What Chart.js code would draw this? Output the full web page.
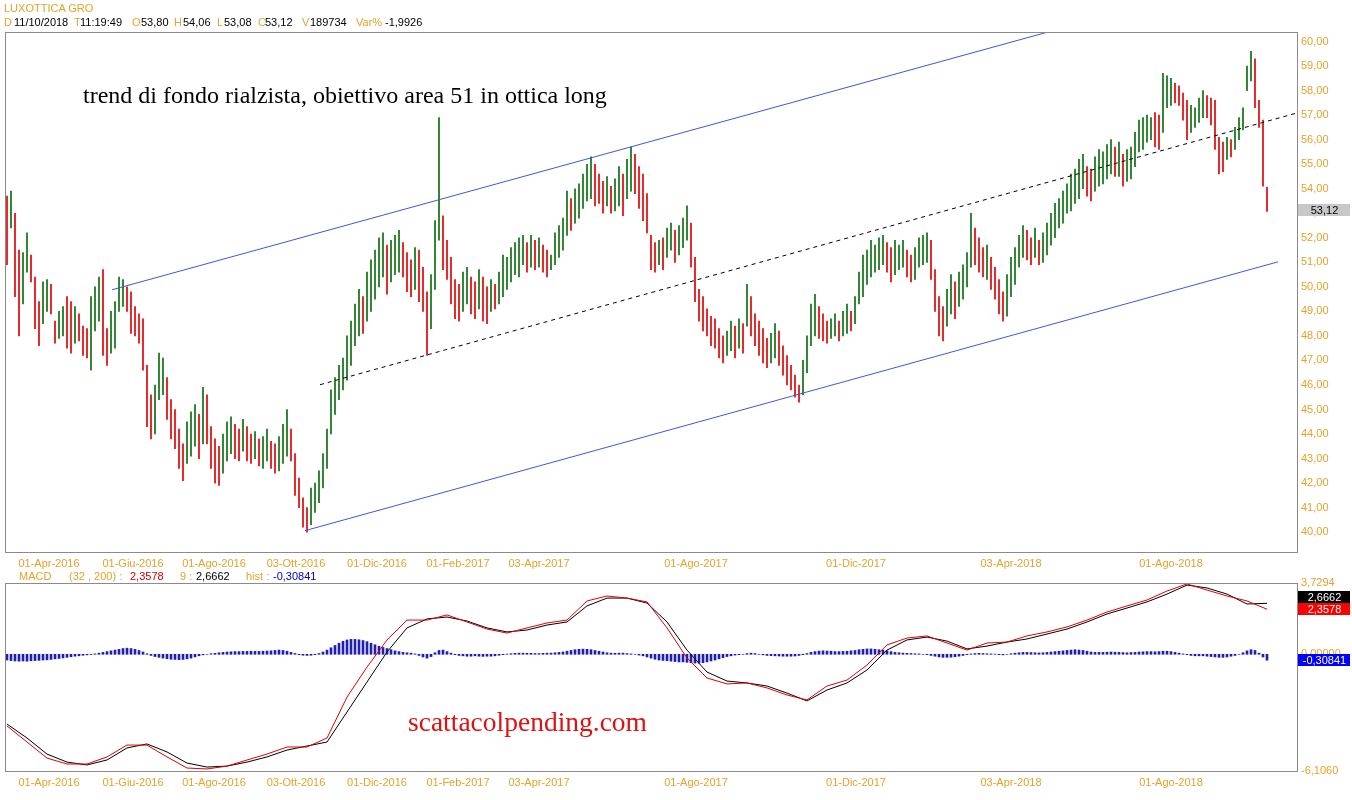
<!DOCTYPE html>
<html>
<head>
<meta charset="utf-8">
<title>LUXOTTICA GRO</title>
<script src="https://cdn.jsdelivr.net/npm/chart.js@4.4.1/dist/chart.umd.min.js"></script>
<style>
  body { margin: 0; background: #fff; }
  #wrap { position: relative; width: 1352px; height: 800px; overflow: hidden; font: 11px "Liberation Sans", Arial, sans-serif; }
  #wrap canvas { position: absolute; left: 0; }
  #price { top: 0; }
  #macd { top: 570px; }
  .row { position: absolute; left: 0; height: 13px; line-height: 13px; white-space: pre; }
  .row span { position: absolute; top: 0; }
  .o { color: #e5a229; }
  .k { color: #000; }
  .note { position: absolute; white-space: pre; font-family: "Liberation Serif", "Times New Roman", serif; }
</style>
</head>
<body>
<div id="wrap">
  <canvas id="price" width="1352" height="575"></canvas>
  <canvas id="macd" width="1352" height="230"></canvas>

  <div class="row" style="top:2px"><span class="o" style="left:4px">LUXOTTICA GRO</span></div>
  <div class="row" style="top:16px">
    <span class="o" style="left:4px">D</span><span class="k" style="left:14px">11/10/2018</span>
    <span class="o" style="left:74px">T</span><span class="k" style="left:80px">11:19:49</span>
    <span class="o" style="left:132px">O</span><span class="k" style="left:141px">53,80</span>
    <span class="o" style="left:174px">H</span><span class="k" style="left:183px">54,06</span>
    <span class="o" style="left:217px">L</span><span class="k" style="left:224px">53,08</span>
    <span class="o" style="left:258px">C</span><span class="k" style="left:265px">53,12</span>
    <span class="o" style="left:302px">V</span><span class="k" style="left:310px">189734</span>
    <span class="o" style="left:356px">Var%</span><span class="k" style="left:385px">-1,9926</span>
  </div>
  <div class="row" style="top:570px">
    <span class="o" style="left:19px">MACD</span>
    <span class="o" style="left:69px">(32 , 200) :</span>
    <span style="left:130px;color:#d00000">2,3578</span>
    <span class="o" style="left:180px">9 :</span>
    <span class="k" style="left:196px">2,6662</span>
    <span class="o" style="left:246px">hist :</span>
    <span style="left:273px;color:#0000c0">-0,30841</span>
  </div>

  <div class="note" style="left:83px;top:83px;font-size:24px;line-height:24px;color:#000">trend di fondo rialzista, obiettivo area 51 in ottica long</div>
  <div class="note" style="left:408px;top:708px;font-size:27.5px;line-height:27.5px;color:#dd1111">scattacolpending.com</div>
</div>

<script>
// ---- data ----
const dateLabels = ['01-Apr-2016', '01-Giu-2016', '01-Ago-2016', '03-Ott-2016', '01-Dic-2016', '01-Feb-2017',
                    '03-Apr-2017', '01-Ago-2017', '01-Dic-2017', '03-Apr-2018', '01-Ago-2018'];
const datePos = [10.5, 31.5, 51.75, 72.25, 92.5, 112.75, 133, 172.25, 212.25, 251, 291]; // bar index of each label
const priceTicks = [40, 41, 42, 43, 44, 45, 46, 47, 48, 49, 50, 51, 52, 53, 54, 55, 56, 57, 58, 59, 60];

const highs = [
  53.7,53.9,53.0,51.5,51.4,52.2,51.3,50.4,49.4,50.2,
  50.3,50.1,48.6,49.0,49.2,49.6,49.4,49.2,48.9,48.4,
  48.3,49.6,50.0,50.4,50.7,48.3,49.0,49.4,50.4,50.3,
  50.0,49.8,49.2,48.9,48.7,46.8,45.6,46.0,47.3,47.1,
  46.3,45.4,45.0,44.2,43.6,44.5,44.9,45.2,44.8,45.9,
  45.6,44.3,43.8,43.5,44.0,44.5,44.7,44.4,44.2,44.6,
  44.3,44.0,44.1,43.8,43.9,44.2,43.7,43.6,43.9,44.4,
  45.0,44.2,43.2,42.2,41.4,41.0,41.8,42.0,42.5,43.2,
  44.2,45.8,46.3,46.8,47.1,48.0,48.6,49.3,49.9,49.6,
  50.6,51.1,51.5,52.0,52.2,51.7,51.9,52.1,52.3,51.8,
  51.4,51.1,51.6,51.5,50.8,49.8,50.5,52.7,56.9,52.9,
  51.9,51.2,50.3,50.1,50.6,50.8,50.4,50.2,50.7,50.4,
  50.0,50.3,50.1,50.6,51.3,51.2,51.6,51.8,52.0,52.1,
  51.8,52.1,51.9,52.0,51.7,51.5,51.3,52.2,52.5,52.8,
  53.9,53.6,54.0,54.2,54.6,55.0,55.3,55.0,54.6,54.3,
  54.5,54.1,54.4,54.9,54.6,55.2,55.7,55.4,54.9,54.6,
  53.8,52.1,51.8,51.9,52.0,52.4,52.6,52.3,52.5,52.8,
  53.3,52.6,51.2,49.9,49.6,49.1,48.8,48.7,48.3,48.0,
  48.2,48.6,48.4,48.7,48.5,50.1,49.6,48.9,48.6,48.3,
  47.9,48.1,48.5,48.2,47.6,47.2,46.8,46.4,46.0,47.0,
  48.0,49.3,49.7,49.2,48.9,48.6,48.7,48.9,48.6,49.0,
  49.3,49.0,49.6,50.6,51.3,51.5,51.9,51.7,52.0,52.1,
  51.8,51.6,51.9,51.7,51.9,51.5,51.3,51.6,52.0,52.1,
  52.2,51.9,50.7,49.6,49.2,49.9,50.5,50.2,50.6,50.9,
  51.4,53.0,52.4,52.0,51.6,51.7,51.2,50.8,50.3,49.8,
  50.5,51.2,51.6,52.1,52.5,52.3,52.0,52.4,51.9,52.2,
  52.6,53.0,53.4,53.6,53.9,54.2,54.6,54.8,55.2,55.4,
  54.9,54.8,55.3,55.6,55.5,55.8,56.0,55.7,55.9,55.4,
  55.6,55.7,56.3,56.8,56.9,57.0,56.9,57.1,57.0,58.7,
  58.6,58.5,58.3,58.2,57.9,57.6,57.4,57.3,57.7,58.0,
  57.8,57.7,57.6,56.1,55.9,56.1,56.0,56.5,56.9,57.3,
  59.0,59.6,59.3,57.6,56.8,54.06
];
const lows = [
  50.9,52.4,49.6,48.0,49.3,50.6,50.2,48.3,47.6,48.5,
  49.0,48.9,47.7,47.9,48.0,47.5,47.3,47.7,47.8,47.2,
  47.1,46.6,48.2,48.6,47.2,46.8,47.3,47.5,49.0,49.2,
  49.0,48.1,48.0,47.7,46.6,44.3,43.8,44.0,45.4,45.6,
  44.6,43.8,43.4,42.6,42.1,42.8,43.1,43.5,43.0,43.6,
  43.6,42.6,42.0,41.9,42.4,42.9,43.2,43.0,42.9,43.3,
  42.9,42.8,43.0,42.7,42.6,42.9,42.6,42.4,42.5,42.8,
  43.1,42.9,41.5,41.0,40.2,40.0,40.3,40.8,41.2,41.8,
  42.6,44.0,44.8,45.4,45.8,46.2,46.8,47.6,48.0,48.1,
  48.6,49.0,49.5,50.0,50.4,49.7,50.2,50.5,50.6,50.4,
  49.8,49.6,49.9,49.4,49.0,47.2,48.3,49.9,51.9,50.7,
  50.3,49.3,48.7,48.6,49.0,49.3,48.9,48.7,49.1,48.6,
  48.5,49.0,49.1,49.3,49.6,49.9,50.2,50.5,50.4,50.9,
  50.6,50.8,50.7,50.8,50.6,50.4,50.7,50.9,51.2,51.5,
  52.1,52.3,52.6,52.8,53.2,53.5,53.6,53.3,53.4,53.0,
  53.3,53.0,53.1,53.3,52.9,53.6,53.9,53.8,53.2,52.7,
  52.2,50.7,50.6,50.9,50.7,51.2,51.5,51.0,51.3,51.6,
  51.9,50.8,49.4,48.6,48.2,48.0,47.6,47.5,47.1,46.9,
  47.2,47.4,47.1,47.5,47.3,48.4,48.0,47.6,47.2,46.9,
  46.7,46.9,47.1,46.8,46.4,46.0,45.8,45.5,45.3,45.6,
  46.5,47.6,48.0,47.9,47.8,47.7,47.9,48.0,47.8,48.0,
  48.1,48.2,48.5,49.3,49.6,50.1,50.4,50.6,50.7,50.9,
  50.6,50.2,50.5,50.7,50.8,50.4,50.2,50.3,50.8,50.9,
  51.0,50.3,49.0,48.0,47.8,48.4,48.9,48.7,49.2,49.5,
  50.0,50.8,50.9,50.6,50.4,50.3,49.9,49.5,48.9,48.6,
  48.8,49.6,50.1,50.8,51.2,51.1,50.9,51.2,50.9,51.0,
  51.3,51.7,52.0,52.4,52.6,53.0,53.1,53.4,53.6,54.0,
  53.7,53.5,53.9,54.1,54.2,54.4,54.6,54.5,54.5,54.1,
  54.3,54.4,54.9,55.5,55.6,55.9,56.0,55.7,55.6,56.3,
  57.3,57.4,57.5,57.4,56.8,56.0,56.3,56.5,56.7,56.9,
  56.9,56.6,55.6,54.6,54.7,55.2,55.3,55.6,56.0,56.4,
  58.0,58.4,57.3,56.5,54.1,53.08
];

// hand-drawn channel: {bar index, price}
const channelTop = [{x: 26.25, y: 49.88}, {x: 260.25, y: 60.39}];
const channelBottom = [{x: 74.5, y: 40.06}, {x: 317.75, y: 51.02}];
const channelMid = [{x: 78.25, y: 46.01}, {x: 322.5, y: 57.09}];

// MACD (32,200) and its 9 signal, one reading every 5 bars
const macdStep = 5;
const macdValues = [
  -3.75,-4.59,-5.43,-5.74,-5.74,-5.37,-4.75,-4.75,-5.37,-5.95,
  -6.00,-5.85,-5.53,-5.22,-4.85,-4.85,-4.38,-2.24,-0.67,0.75,
  1.79,1.79,2.06,1.69,1.32,1.11,1.38,1.64,1.79,2.79,
  3.05,2.94,2.74,1.38,-0.19,-1.24,-1.55,-1.50,-1.76,-2.13,
  -2.39,-1.66,-1.35,-0.56,0.49,0.85,0.96,0.59,0.22,0.59,
  0.64,0.96,1.17,1.43,1.79,2.21,2.53,2.84,3.31,3.68,
  3.36,3.05,2.79,2.3578
];
const signalValues = [
  -3.65,-4.38,-5.22,-5.64,-5.79,-5.53,-4.90,-4.69,-5.11,-5.69,
  -5.90,-5.85,-5.64,-5.37,-5.01,-4.80,-4.59,-3.02,-1.45,0.12,
  1.38,1.85,1.95,1.74,1.38,1.17,1.27,1.53,1.69,2.53,
  2.94,2.94,2.68,1.69,0.22,-0.93,-1.40,-1.50,-1.66,-2.03,
  -2.44,-1.87,-1.50,-0.82,0.22,0.75,0.90,0.69,0.28,0.43,
  0.64,0.80,1.06,1.32,1.69,2.11,2.42,2.74,3.15,3.62,
  3.47,3.15,2.63,2.6662
];
const histValues = [
  -0.30,-0.33,-0.35,-0.36,-0.35,-0.36,-0.34,-0.33,-0.32,-0.30,
  -0.29,-0.27,-0.24,-0.22,-0.19,-0.16,-0.13,-0.10,-0.08,-0.05,
  -0.03,-0.01,0.02,0.06,0.10,0.14,0.18,0.22,0.26,0.30,
  0.32,0.30,0.26,0.20,0.12,0.03,-0.06,-0.12,-0.16,-0.20,
  -0.23,-0.26,-0.27,-0.28,-0.27,-0.24,-0.20,-0.14,-0.08,-0.03,
  0.00,0.03,0.05,0.08,0.10,0.12,0.13,0.14,0.14,0.15,
  0.15,0.16,0.15,0.15,0.16,0.17,0.18,0.20,0.22,0.20,
  0.16,0.10,0.04,-0.02,-0.05,-0.06,-0.05,-0.02,0.04,0.12,
  0.22,0.34,0.46,0.58,0.68,0.75,0.78,0.78,0.76,0.72,
  0.66,0.58,0.50,0.42,0.36,0.30,0.24,0.18,0.14,0.10,
  0.08,0.06,0.02,-0.06,-0.14,-0.20,-0.12,0.08,0.20,0.22,
  0.14,0.06,-0.02,-0.06,-0.08,-0.10,-0.10,-0.08,-0.10,-0.11,
  -0.10,-0.10,-0.08,-0.05,-0.02,0.01,0.03,0.05,0.06,0.06,
  0.05,0.05,0.04,0.04,0.05,0.06,0.06,0.08,0.10,0.12,
  0.16,0.20,0.24,0.26,0.27,0.26,0.24,0.20,0.16,0.12,
  0.08,0.06,0.05,0.06,0.06,0.04,0.02,0.00,-0.04,-0.08,
  -0.14,-0.20,-0.26,-0.30,-0.32,-0.34,-0.36,-0.38,-0.40,-0.40,
  -0.42,-0.44,-0.46,-0.46,-0.44,-0.40,-0.35,-0.30,-0.24,-0.18,
  -0.12,-0.08,-0.04,-0.02,0.00,0.04,0.06,0.04,0.00,-0.03,
  -0.06,-0.07,-0.08,-0.09,-0.10,-0.10,-0.10,-0.09,-0.06,-0.02,
  0.04,0.10,0.14,0.17,0.18,0.17,0.16,0.14,0.14,0.15,
  0.16,0.18,0.20,0.24,0.26,0.28,0.28,0.26,0.24,0.22,
  0.18,0.14,0.10,0.08,0.06,0.05,0.04,0.03,0.02,0.00,
  -0.02,-0.06,-0.10,-0.14,-0.16,-0.16,-0.15,-0.13,-0.10,-0.06,
  -0.02,0.02,0.04,0.05,0.04,0.03,0.02,0.01,-0.02,-0.03,
  0.00,0.03,0.06,0.08,0.10,0.10,0.09,0.08,0.07,0.08,
  0.10,0.12,0.14,0.16,0.18,0.20,0.22,0.24,0.22,0.20,
  0.16,0.12,0.10,0.10,0.10,0.11,0.12,0.11,0.10,0.09,
  0.08,0.09,0.10,0.12,0.13,0.14,0.14,0.13,0.14,0.16,
  0.16,0.14,0.10,0.06,0.02,-0.02,-0.06,-0.08,-0.08,-0.08,
  -0.10,-0.12,-0.14,-0.16,-0.16,-0.14,-0.10,-0.06,0.00,0.08,
  0.18,0.24,0.20,0.06,-0.14,-0.31
];
const macdTicks = [-6.106, 0, 3.7294];
const macdTickLabels = ['-6,1060', '0,00000', '3,7294'];

const lastClose = 53.12;
const lastMacd = 2.3578;
const lastSignal = 2.6662;
const lastHist = -0.30841;

// ---- styling ----
const ORANGE = '#e5a229';
const UP = '#0a6e0a';
const DOWN = '#e00000';
const CHANNEL = '#3c5ad2';
const AXIS_FONT = {family: "'Liberation Sans', Arial, sans-serif", size: 11};

// bar colour: green when the bar sits higher than the one before
const barColors = highs.map((h, i) => {
  if (i === 0) return DOWN;
  return (h + lows[i]) >= (highs[i - 1] + lows[i - 1]) ? UP : DOWN;
});

// border box + the coloured last-value boxes on the right axis
const frame = {
  id: 'frame',
  afterDraw(chart, args, opts) {
    const {ctx, chartArea: a} = chart;
    const y = chart.scales.y;
    ctx.save();
    ctx.strokeStyle = '#8a8a8a';
    ctx.lineWidth = 1;
    ctx.strokeRect(a.left + 0.5, a.top + 0.5, a.right - a.left, a.bottom - a.top);
    ctx.font = "11px 'Liberation Sans', Arial, sans-serif";
    ctx.textAlign = 'center';
    ctx.textBaseline = 'middle';
    const placed = [];
    (opts.boxes || []).forEach(b => {
      let top = Math.round(y.getPixelForValue(b.value)) - 6;
      placed.forEach(p => { if (top < p + 12 && top + 12 > p) top = p - 12; });
      placed.push(top);
      ctx.fillStyle = b.bg;
      ctx.fillRect(a.right + 1, top, chart.width - a.right - 3, 12);
      ctx.fillStyle = b.fg;
      ctx.fillText(b.text, (a.right + chart.width) / 2, top + 6.5);
    });
    ctx.restore();
  }
};

function dateAxis(h) {
  return {
    type: 'linear', min: -0.5, max: 322.5, offset: false, bounds: 'data',
    grid: {display: false, drawTicks: false},
    border: {display: false},
    afterBuildTicks: s => { s.ticks = datePos.map(v => ({value: v})); },
    afterFit: s => { s.height = h; },
    ticks: {
      autoSkip: false, maxRotation: 0, padding: 5, color: ORANGE, font: AXIS_FONT,
      callback: (v, i) => dateLabels[i]
    }
  };
}

function lineSet(points, color, dash) {
  return {
    type: 'line', data: points, borderColor: color, borderWidth: 1,
    borderDash: dash || [], pointRadius: 0, tension: 0, fill: false, order: 1
  };
}

new Chart(document.getElementById('price'), {
  type: 'bar',
  data: {
    datasets: [
      lineSet(channelTop, CHANNEL),
      lineSet(channelBottom, CHANNEL),
      lineSet(channelMid, '#000', [4, 4]),
      {
        data: highs.map((h, i) => ({x: i, y: [lows[i], h]})),
        backgroundColor: barColors,
        barThickness: 1,
        order: 2
      }
    ]
  },
  options: {
    responsive: false, animation: false, devicePixelRatio: 1,
    layout: {padding: {left: 5, top: 32, right: 0, bottom: 0}},
    plugins: {
      legend: {display: false}, tooltip: {enabled: false},
      frame: {boxes: [{value: lastClose, text: '53,12', bg: '#c8c8c8', fg: '#000'}]}
    },
    scales: {
      x: dateAxis(23),
      y: {
        position: 'right', min: 39.19, max: 60.39, bounds: 'data',
        grid: {display: false, drawTicks: false},
        border: {display: false},
        afterBuildTicks: s => { s.ticks = priceTicks.map(v => ({value: v})); },
        afterFit: s => { s.width = 55; },
        ticks: {
          padding: 4, color: ORANGE, font: AXIS_FONT, autoSkip: false,
          callback: v => v.toFixed(2).replace('.', ',')
        }
      }
    }
  },
  plugins: [frame]
});

new Chart(document.getElementById('macd'), {
  type: 'bar',
  data: {
    datasets: [
      Object.assign(lineSet(macdValues.map((v, k) => ({x: k * macdStep, y: v})), '#e00000'), {order: 0}),
      lineSet(signalValues.map((v, k) => ({x: k * macdStep, y: v})), '#000'),
      {
        data: histValues.map((v, i) => ({x: i, y: v})),
        backgroundColor: '#2020b0',
        barThickness: 2,
        order: 2
      }
    ]
  },
  options: {
    responsive: false, animation: false, devicePixelRatio: 1,
    layout: {padding: {left: 5, top: 13, right: 0, bottom: 0}},
    plugins: {
      legend: {display: false}, tooltip: {enabled: false},
      frame: {boxes: [
        {value: lastMacd, text: '2,3578', bg: '#ff0000', fg: '#fff'},
        {value: lastSignal, text: '2,6662', bg: '#000', fg: '#fff'},
        {value: lastHist, text: '-0,30841', bg: '#0000ff', fg: '#fff'}
      ]}
    },
    scales: {
      x: dateAxis(29),
      y: {
        position: 'right', min: -6.106, max: 3.7294, bounds: 'data',
        grid: {display: false, drawTicks: false},
        border: {display: false},
        afterBuildTicks: s => { s.ticks = macdTicks.map(v => ({value: v})); },
        afterFit: s => { s.width = 55; },
        ticks: {
          padding: 4, color: ORANGE, font: AXIS_FONT, autoSkip: false,
          callback: (v, i) => macdTickLabels[i]
        }
      }
    }
  },
  plugins: [frame]
});
</script>
</body>
</html>
